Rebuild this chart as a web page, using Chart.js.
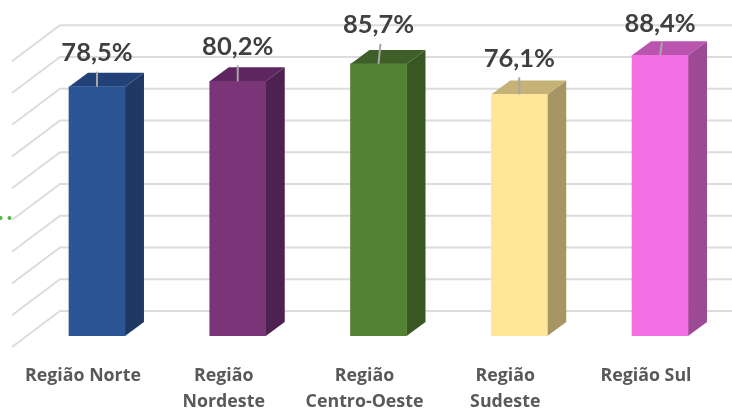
<!DOCTYPE html>
<html><head><meta charset="utf-8">
<script src="https://cdn.jsdelivr.net/npm/chart.js@4"></script>
<style>html,body{margin:0;padding:0;background:#fff}#w{width:732px;height:408px;position:relative}</style>
</head><body><div id="w"><canvas id="c"></canvas></div>
<script>
const categories = [["Região Norte"],["Região","Nordeste"],["Região","Centro-Oeste"],["Região","Sudeste"],["Região Sul"]];
const values = [78.5,80.2,85.7,76.1,88.4];
const frontColors = ["#2C5596","#7A3578","#548235","#FFE699","#F26FE4"];
const sideColors = ["#1F3864","#4E2250","#385723","#A69663","#9B4A93"];
const topColors = ["#234179","#5E2660","#3E5F27","#C5B277","#B955AE"];
const gridValues = [0,10,20,30,40,50,60,70,80,90];
const labelNudgeX = [0,0,0,0,0];
const labelRise = [34,35,39,36,32];
const leaderLean = [0,0,2,0,2];
const DX=19, DY=14, BACK=25, WALLX=60, DIAGX=48, DIAGY=36;

const threeD = {
  id:'threeD',
  beforeDatasetsDraw(chart){
    const {ctx,scales:{y},width}=chart;
    ctx.save();
    ctx.strokeStyle='#DCDCDC';ctx.lineWidth=2;
    gridValues.forEach(v=>{
      const py=y.getPixelForValue(v)-BACK;
      ctx.beginPath();ctx.moveTo(WALLX-DIAGX,py+DIAGY);ctx.lineTo(WALLX,py);ctx.lineTo(width,py);ctx.stroke();
    });
    ctx.fillStyle='#4DB848';
    [0.5,9.5].forEach(x=>{ctx.beginPath();ctx.arc(x,218,2,0,Math.PI*2);ctx.fill();});
    chart.getDatasetMeta(0).data.forEach((b,i)=>{
      const r=b.x+b.width/2,l=b.x-b.width/2,t=b.y,base=b.base;
      ctx.fillStyle=sideColors[i];
      ctx.beginPath();ctx.moveTo(r,base);ctx.lineTo(r+DX,base-DY);ctx.lineTo(r+DX,t-DY);ctx.lineTo(r,t);ctx.closePath();ctx.fill();
      ctx.fillStyle=topColors[i];
      ctx.beginPath();ctx.moveTo(l,t);ctx.lineTo(l+DX,t-DY);ctx.lineTo(r+DX,t-DY);ctx.lineTo(r,t);ctx.closePath();ctx.fill();
    });
    ctx.restore();
  },
  afterDatasetsDraw(chart){
    const {ctx}=chart;
    ctx.save();
    chart.getDatasetMeta(0).data.forEach((b,i)=>{
      ctx.strokeStyle='#A6A6A6';ctx.lineWidth=2;
      ctx.beginPath();ctx.moveTo(b.x,b.y);ctx.lineTo(b.x+leaderLean[i],b.y-labelRise[i]+19);ctx.stroke();
      ctx.fillStyle='#404040';ctx.font='bold 25.5px Lato';ctx.textAlign='center';ctx.textBaseline='middle';
      ctx.fillText(values[i].toFixed(1).replace('.',',')+'%',b.x+labelNudgeX[i],b.y-labelRise[i]);
    });
    ctx.restore();
  }
};

new Chart(document.getElementById('c'),{
  type:'bar',
  data:{labels:categories,datasets:[{data:values,backgroundColor:frontColors,barThickness:56,borderWidth:0}]},
  plugins:[threeD],
  options:{
    responsive:true,maintainAspectRatio:false,animation:false,devicePixelRatio:1,
    layout:{padding:{left:26.6,right:1.6,top:18.5,bottom:0}},
    plugins:{legend:{display:false},tooltip:{enabled:false}},
    scales:{
      y:{min:0,max:100,display:false},
      x:{
        grid:{display:false},border:{display:false},
        afterFit(s){s.height=72;},
        ticks:{color:'#595959',font:{family:'Open Sans',weight:'bold',size:17.8,lineHeight:1.46},padding:19,labelOffset:-14,maxRotation:0,autoSkip:false}
      }
    }
  }
});
</script></body></html>
